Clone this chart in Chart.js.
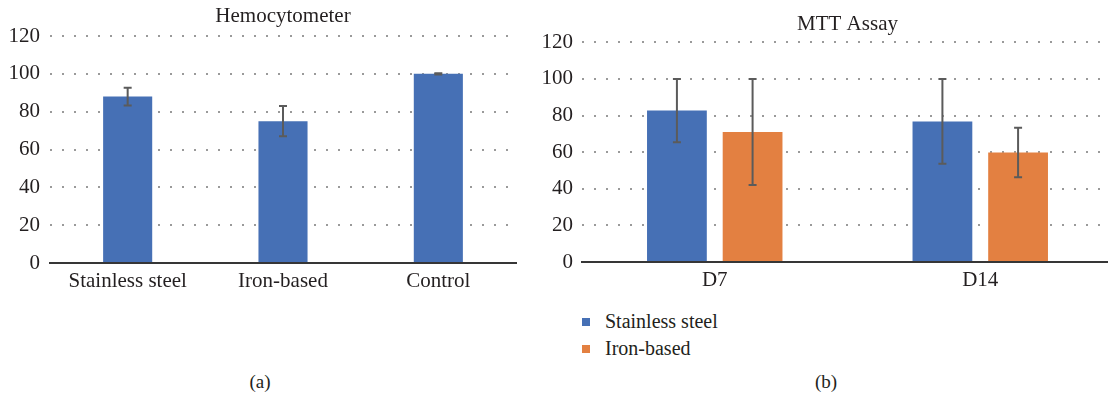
<!DOCTYPE html>
<html>
<head>
<meta charset="utf-8">
<script src="https://cdn.jsdelivr.net/npm/chart.js@4.4.1/dist/chart.umd.min.js"></script>
<style>
  html, body { margin: 0; padding: 0; background: #fff; width: 1108px; height: 398px; overflow: hidden; }
  body { position: relative; font-family: "Liberation Serif", serif; color: #231f20; }
  .box { position: absolute; top: 0; height: 300px; }
  #boxA { left: 0; width: 520px; }
  #boxB { left: 520px; width: 593px; }
  .cap { position: absolute; font-size: 19px; line-height: 19px; transform: translateX(-50%); white-space: nowrap; }
  #legendB { position: absolute; left: 582px; top: 308px; }
  .lg { display: flex; align-items: center; height: 27px; font-size: 20px; }
  .sw { width: 8px; height: 8px; margin-right: 15px; flex: none; }
</style>
</head>
<body>
<div class="box" id="boxA"><canvas id="chartA" width="520" height="300"></canvas></div>
<div class="box" id="boxB"><canvas id="chartB" width="593" height="300"></canvas></div>
<div id="legendB"></div>
<div class="cap" style="left:260px; top:372px;">(a)</div>
<div class="cap" style="left:826px; top:372px;">(b)</div>
<script>
// Panel (a): cell viability by hemocytometer count (%)
const hemoCategories = ['Stainless steel', 'Iron-based', 'Control'];
const hemoValues = [88, 75, 100];
const hemoErrors = [4.7, 8, 0.3];

// Panel (b): MTT assay (%) at day 7 and day 14
const mttCategories = ['D7', 'D14'];
const mttSeriesNames = ['Stainless steel', 'Iron-based'];
const mttStainless = [82.7, 76.8];
const mttStainlessErr = [17.3, 23.2];
const mttIron = [71, 59.8];
const mttIronErr = [29, 13.5];

const yTicks = [0, 20, 40, 60, 80, 100, 120];

const BLUE = '#4670b5';
const ORANGE = '#e38041';
const TEXT = '#231f20';
const FONT = 'Liberation Serif';

// Draws symmetric error bars from each dataset's `errors` array
const errorBarPlugin = {
  id: 'errorBars',
  afterDatasetsDraw(chart) {
    const ctx = chart.ctx;
    const yScale = chart.scales.y;
    chart.data.datasets.forEach((ds, di) => {
      const meta = chart.getDatasetMeta(di);
      if (!ds.errors) return;
      meta.data.forEach((bar, i) => {
        const v = ds.data[i], e = ds.errors[i];
        const yTop = yScale.getPixelForValue(v + e);
        const yBot = yScale.getPixelForValue(v - e);
        const x = bar.x;
        ctx.save();
        ctx.strokeStyle = '#5b5b5b';
        ctx.lineWidth = 2;
        ctx.beginPath();
        ctx.moveTo(x, yTop); ctx.lineTo(x, yBot);
        ctx.moveTo(x - 4, yTop); ctx.lineTo(x + 4, yTop);
        ctx.moveTo(x - 4, yBot); ctx.lineTo(x + 4, yBot);
        ctx.stroke();
        ctx.restore();
      });
    });
  }
};

function makeScales(yWidth, xHeight, yPad) {
  return {
    x: {
      offset: true,
      grid: { display: false, drawTicks: false },
      border: { display: true, color: '#363636', width: 2 },
      ticks: { color: TEXT, font: { family: FONT, size: 21 }, padding: 6 },
      afterFit(s) { s.height = xHeight; }
    },
    y: {
      min: 0, max: 120,
      afterBuildTicks(s) { s.ticks = yTicks.map(v => ({ value: v })); },
      grid: {
        drawTicks: false,
        lineWidth: 2,
        color: c => (c.tick && c.tick.value === 0) ? 'rgba(0,0,0,0)' : '#9a9a9a'
      },
      border: { display: false, dash: [2, 10] },
      ticks: { color: TEXT, font: { family: FONT, size: 21 }, padding: yPad },
      afterFit(s) { s.width = yWidth; }
    }
  };
}

// Title centred over the plot area rather than the whole canvas
function titleOpts(text, top, bottom) {
  return {
    display: true, text, color: TEXT, fullSize: false,
    font: { family: FONT, size: 21, weight: 'normal', lineHeight: 1.2 },
    padding: { top, bottom }
  };
}

new Chart(document.getElementById('chartA'), {
  type: 'bar',
  data: {
    labels: hemoCategories,
    datasets: [{
      label: 'Hemocytometer',
      data: hemoValues,
      errors: hemoErrors,
      backgroundColor: BLUE,
      categoryPercentage: 0.8,
      barPercentage: 0.395
    }]
  },
  options: {
    responsive: false, animation: false,
    layout: { padding: { left: 0, right: 4, top: 0, bottom: 0 } },
    plugins: { legend: { display: false }, tooltip: { enabled: false },
      title: titleOpts('Hemocytometer', 4, 6.8) },
    scales: makeScales(50, 37, 10)
  },
  plugins: [errorBarPlugin]
});

const chartB = new Chart(document.getElementById('chartB'), {
  type: 'bar',
  data: {
    labels: mttCategories,
    datasets: [
      { label: mttSeriesNames[0], data: mttStainless, errors: mttStainlessErr, backgroundColor: BLUE,
        categoryPercentage: 0.57, barPercentage: 0.79 },
      { label: mttSeriesNames[1], data: mttIron, errors: mttIronErr, backgroundColor: ORANGE,
        categoryPercentage: 0.57, barPercentage: 0.79 }
    ]
  },
  options: {
    responsive: false, animation: false,
    layout: { padding: { left: 0, right: 0, top: 0, bottom: 0 } },
    plugins: { legend: { display: false }, tooltip: { enabled: false },
      title: titleOpts('MTT Assay', 11.4, 5.7) },
    scales: makeScales(62, 38, 9)
  },
  plugins: [errorBarPlugin]
});

// Legend for panel (b), built from the chart's own datasets
const legendEl = document.getElementById('legendB');
chartB.data.datasets.forEach(ds => {
  const row = document.createElement('div');
  row.className = 'lg';
  const sw = document.createElement('span');
  sw.className = 'sw';
  sw.style.background = ds.backgroundColor;
  const tx = document.createElement('span');
  tx.textContent = ds.label;
  row.appendChild(sw); row.appendChild(tx);
  legendEl.appendChild(row);
});
</script>
</body>
</html>
